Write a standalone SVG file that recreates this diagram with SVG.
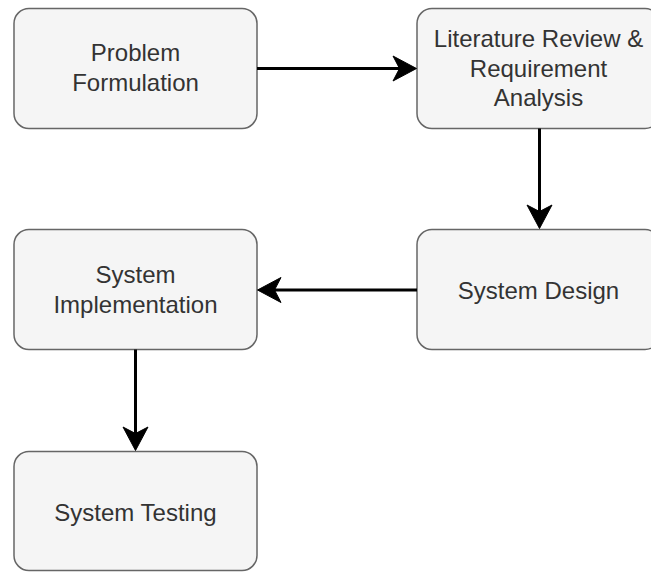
<svg xmlns="http://www.w3.org/2000/svg" width="651" height="572" viewBox="0 0 651 572">
  <style>
    .box { fill: #f5f5f5; stroke: #666666; stroke-width: 1.5; }
    .lbl { font-family: "Liberation Sans", Arial, Helvetica, sans-serif; font-size: 24px; fill: #333333; text-anchor: middle; }
    .edge { fill: none; stroke: #000000; stroke-width: 3; }
    .head { fill: #000000; stroke: #000000; stroke-width: 1; stroke-linejoin: miter; }
  </style>
  <rect width="651" height="572" fill="#ffffff"/>

  <g id="node-problem">
    <rect class="box" x="14" y="8.5" width="243" height="120" rx="15" ry="15"/>
    <text class="lbl" x="135.5" y="61">Problem</text>
    <text class="lbl" x="135.5" y="91">Formulation</text>
  </g>

  <g id="node-literature">
    <rect class="box" x="417" y="8.5" width="243" height="120" rx="15" ry="15"/>
    <text class="lbl" x="538.5" y="47">Literature Review &amp;</text>
    <text class="lbl" x="538.5" y="77">Requirement</text>
    <text class="lbl" x="538.5" y="106">Analysis</text>
  </g>

  <g id="node-design">
    <rect class="box" x="417" y="229.5" width="243" height="120" rx="15" ry="15"/>
    <text class="lbl" x="538.5" y="299">System Design</text>
  </g>

  <g id="node-implementation">
    <rect class="box" x="14" y="229.5" width="243" height="120" rx="15" ry="15"/>
    <text class="lbl" x="135.5" y="283">System</text>
    <text class="lbl" x="135.5" y="313">Implementation</text>
  </g>

  <g id="node-testing">
    <rect class="box" x="14" y="451.5" width="243" height="119" rx="15" ry="15"/>
    <text class="lbl" x="135.5" y="521">System Testing</text>
  </g>

  <g id="connectors">
    <!-- Problem Formulation -> Literature Review -->
    <path class="edge" d="M257 68.5 H400"/>
    <path class="head" d="M416.5 68.5 L393 56 L399.5 68.5 L393 81 Z"/>
    <!-- Literature Review -> System Design -->
    <path class="edge" d="M539.5 128.5 V212"/>
    <path class="head" d="M539.5 228.5 L527 205 L539.5 211.5 L552 205 Z"/>
    <!-- System Design -> System Implementation -->
    <path class="edge" d="M417 290 H274"/>
    <path class="head" d="M257.5 290 L281 277.5 L274.5 290 L281 302.5 Z"/>
    <!-- System Implementation -> System Testing -->
    <path class="edge" d="M135.5 349.5 V434"/>
    <path class="head" d="M135.5 450.5 L123 427 L135.5 433.5 L148 427 Z"/>
  </g>
</svg>
